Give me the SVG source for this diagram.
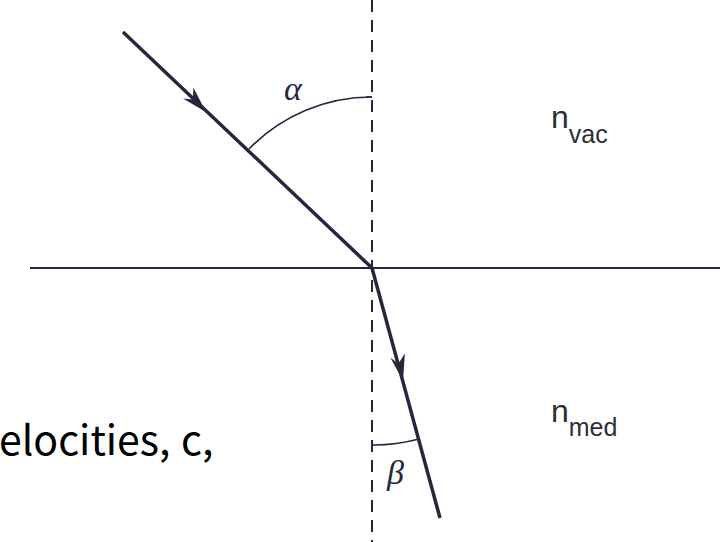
<svg xmlns="http://www.w3.org/2000/svg" width="720" height="542" viewBox="0 0 720 542">
<style>
.ln{stroke:#262640;fill:none}
.ray{stroke:#262640;stroke-width:3.5;fill:none}
.arc{stroke:#262640;stroke-width:1.6;fill:none}
.head{fill:#262640}
.lbl{font-family:"Liberation Sans",Arial,sans-serif;fill:#2e2e36}
.gr{font-family:"Liberation Serif","DejaVu Serif",serif;font-style:italic;fill:#262640}
</style>
<rect width="720" height="542" fill="#fff"/>
<g id="connectors">
<line class="ln" x1="372" y1="0" x2="372" y2="542" stroke-width="2" stroke-dasharray="12,8"/>
<line class="ln" x1="30" y1="268" x2="720" y2="268" stroke-width="2"/>
<line class="ray" x1="123" y1="32" x2="372" y2="268"/>
<line class="ray" x1="372" y1="268" x2="440" y2="518"/>
<path class="head" d="M0,0 L-26,-9 L-18,0 L-26,6 Z" transform="translate(206,112) rotate(43.5)"/>
<path class="head" d="M0,0 L-26,-9 L-18,0 L-26,6 Z" transform="translate(403,381) rotate(74.8)"/>
<path class="arc" d="M249,149 A171,171 0 0 1 372,97"/>
<line class="ln" x1="366" y1="97" x2="372" y2="97" stroke-width="1.6"/>
<path class="arc" d="M372,445 A177,177 0 0 0 419,439"/>
</g>
<g id="alpha"><text class="gr" x="284" y="100" font-size="34">α</text></g>
<g id="beta"><text class="gr" x="387" y="484" font-size="34">β</text></g>
<g id="nvac"><text class="lbl" x="551" y="128" font-size="32">n<tspan font-size="25" dy="15">vac</tspan></text></g>
<g id="nmed"><text class="lbl" x="551" y="422" font-size="32">n<tspan font-size="25" dy="14">med</tspan></text></g>
<g id="caption"><text x="-1" y="455" font-size="41" font-family="'Noto Sans CJK KR','Noto Sans',sans-serif" fill="#000">elocities,<tspan x="181">c,</tspan></text></g>
</svg>
